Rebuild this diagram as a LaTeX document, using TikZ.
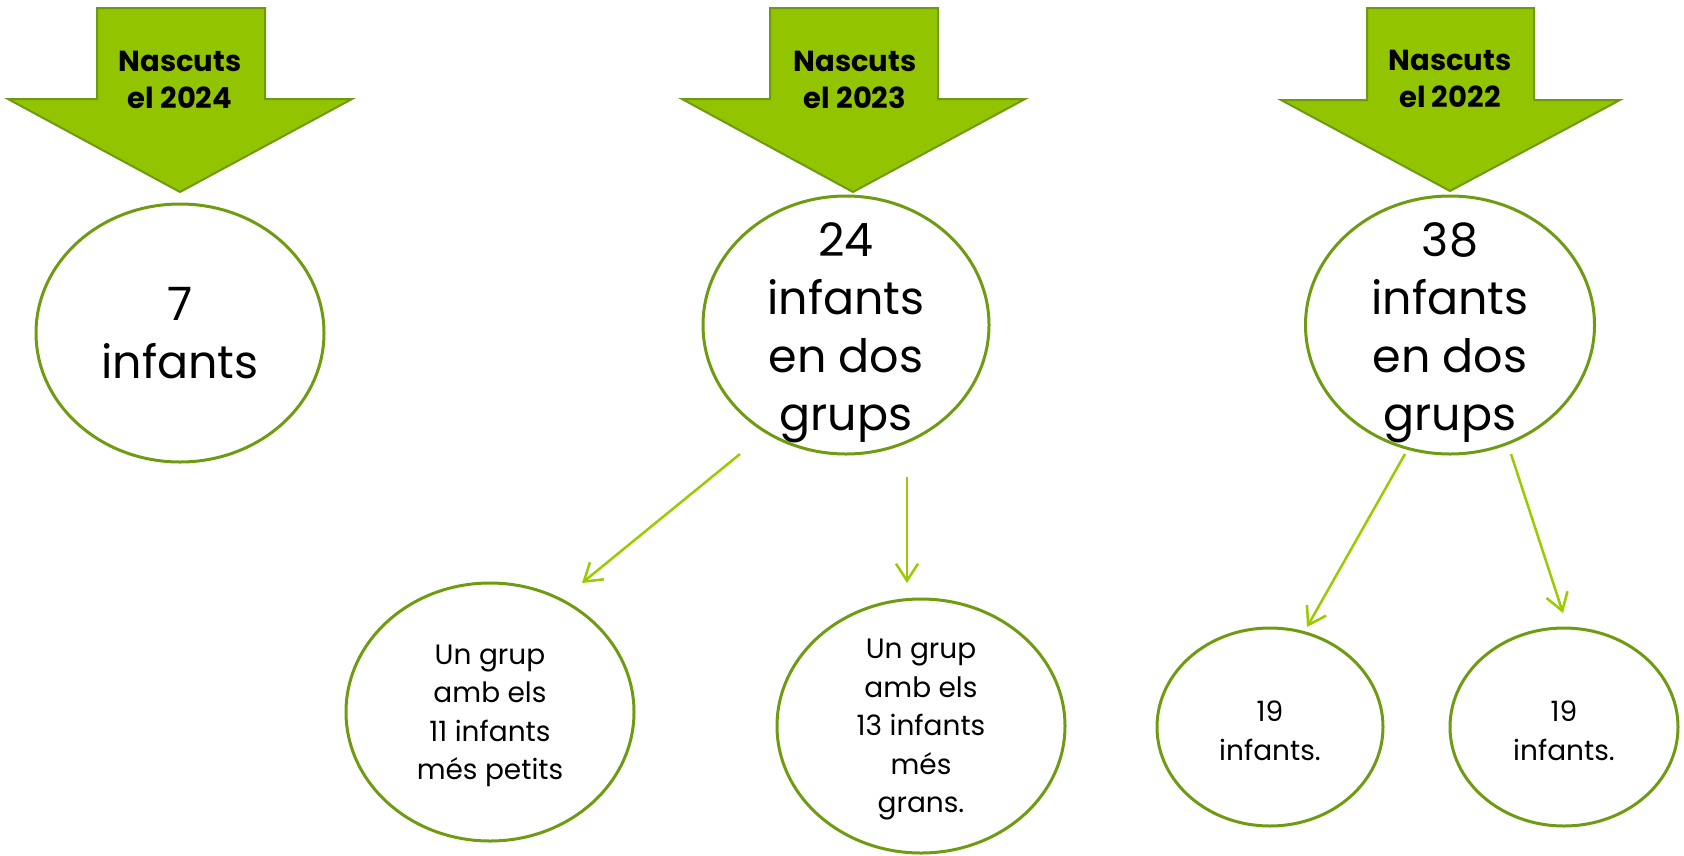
\documentclass[tikz,border=0pt]{standalone}
\usepackage{fontspec}
\setmainfont{Poppins}
\usetikzlibrary{shapes.geometric,arrows.meta}
\definecolor{fletxa}{HTML}{92C400}
\definecolor{vora}{HTML}{6E9A0E}
\definecolor{cercle}{HTML}{6F9B12}
\definecolor{linia}{HTML}{9ACB00}

\begin{document}
\begin{tikzpicture}[x=1pt, y=-1pt]
				\tikzstyle{every node}=[inner sep=1pt, align=center]
				\tikzstyle{cercle}=[ellipse, draw=cercle, line width=3pt]
				\tikzstyle{gran}=[font=\fontsize{46}{58}\selectfont]
				\tikzstyle{petit}=[font=\fontsize{28}{38.5}\selectfont, yshift=-4pt]
				\tikzstyle{any}=[font=\fontsize{29}{37.6}\selectfont\bfseries]
				\tikzstyle{baixa}=[fill=fletxa, draw=vora, line width=2pt, line join=miter]
				\tikzstyle{fina}=[draw=linia, line width=2.5pt, -{Straight Barb[length=17pt, width=22pt, line width=2.5pt]}]
				\useasboundingbox (0,0) rectangle (1684,855);
				% fletxes grans
				\path[baixa] (97,8) -- (265,8) -- (265,99) -- (352,99) -- (180,192) -- (8,99) -- (97,99) -- cycle;
				\path[baixa] (770,8) -- (938,8) -- (938,99) -- (1025,99) -- (853,192) -- (682,99) -- (770,99) -- cycle;
				\path[baixa] (1367,8) -- (1534,8) -- (1534,100) -- (1620,100) -- (1450,191) -- (1281,100) -- (1367,100) -- cycle;
				\node[any] (n24) at (180,80) {Nascuts\\el 2024};
				\node[any] (n23) at (855,80) {Nascuts\\el 2023};
				\node[any] (n22) at (1450,79) {Nascuts\\el 2022};
				% cercles
				\node[cercle, minimum width=288pt, minimum height=258pt] (c24) at (180,333) {};
				\node[cercle, minimum width=286pt, minimum height=258pt] (c23) at (846,325) {};
				\node[cercle, minimum width=289pt, minimum height=258pt] (c22) at (1450,325) {};
				\node[cercle, minimum width=288pt, minimum height=258pt] (c11) at (490,712) {};
				\node[cercle, minimum width=288pt, minimum height=254pt] (c13) at (921,726) {};
				\node[cercle, minimum width=226pt, minimum height=198pt] (ca) at (1270,727) {};
				\node[cercle, minimum width=228pt, minimum height=198pt] (cb) at (1564,727) {};
				\node[gran] (t24) at (c24) {7\\infants};
				\node[gran] (t23) at ([yshift=-8pt]c23) {24\\infants\\en dos\\grups};
				\node[gran] (t22) at ([yshift=-8pt]c22) {38\\infants\\en dos\\grups};
				\node[petit] (t11) at (c11) {Un grup\\amb els\\11 infants\\més petits};
				\node[petit] (t13) at (c13) {Un grup\\amb els\\13 infants\\més\\grans.};
				\node[petit] (ta) at (ca) {19\\infants.};
				\node[petit] (tb) at (cb) {19\\infants.};
				% fletxes fines
				\coordinate (s1) at (740,454);
				\coordinate (s2) at (907,477);
				\coordinate (s3) at (1405,454);
				\coordinate (s4) at (1511,454);
				\coordinate (e1) at (582,583);
				\coordinate (e2) at (907,583);
				\coordinate (e3) at (1307,627);
				\coordinate (e4) at (1563,613);
				\draw [fina] (s1) -- (e1);
				\draw [fina] (s2) -- (e2);
				\draw [fina] (s3) -- (e3);
				\draw [fina] (s4) -- (e4);
		\end{tikzpicture}
\end{document}
